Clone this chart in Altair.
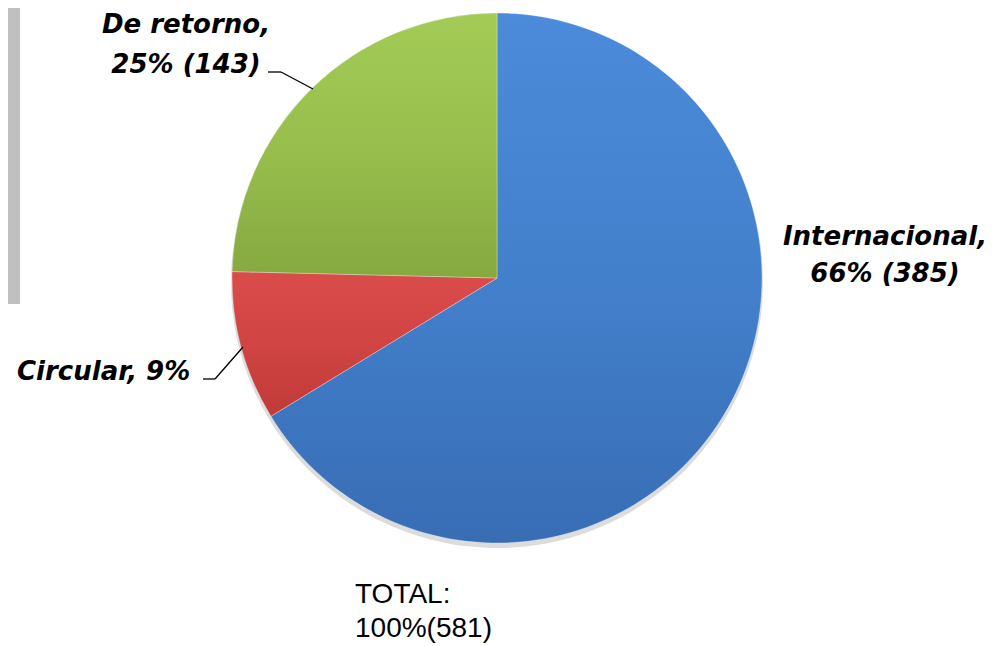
import math
import altair as alt
import pandas as pd

# ---- data ----
categories = ["Internacional", "Circular", "De retorno"]
counts = [385, 53, 143]
percents = [66, 9, 25]
show_count = [True, False, True]
total_lines = ["TOTAL:", "100%(581)"]

df = pd.DataFrame({
    "cat": categories,
    "n": counts,
    "pct": percents,
    "order": list(range(len(categories))),
})

W, H = 980, 638
OFF = 8
CX, CY, R = 497 - OFF, 278 - OFF, 265

theta_scale = alt.Scale(domain=[0, sum(counts)], range=[0, 2 * math.pi])

base = alt.Chart(df).transform_window(
    end="sum(n)", sort=[alt.SortField("order")], frame=[None, 0]
).transform_calculate(start="datum.end - datum.n")

enc = dict(
    theta=alt.Theta("start:Q", scale=theta_scale),
    theta2="end:Q",
)

# shadow
shadow = base.mark_arc(outerRadius=R + 1, fill="#8a8a8a", opacity=0.3).encode(
    x=alt.value(CX), y=alt.value(CY + 4), **enc
)

grad = {
    "Internacional": [(0, "#4b8bd9"), (0.5, "#4380cc"), (1, "#386db4")],
    "Circular": [(0, "#da4c4a"), (0.5, "#d04444"), (1, "#c03a38")],
    "De retorno": [(0, "#a3cb56"), (0.5, "#98bf4d"), (1, "#86a840")],
}


def slice_layer(cat):
    return base.transform_filter(alt.datum.cat == cat).mark_arc(
        outerRadius=R,
        fill=alt.Gradient(
            gradient="linear",
            stops=[alt.GradientStop(color=c, offset=o) for o, c in grad[cat]],
            x1=0, y1=0, x2=0, y2=1,
        ),
        stroke="#ffffff",
        strokeOpacity=0.3,
        strokeWidth=1,
    ).encode(x=alt.value(CX), y=alt.value(CY), **enc)


slices = [slice_layer(c) for c in categories]

# gray bar on the left
bar = alt.Chart(df).mark_rect(color="#c0c0c0").encode(
    x=alt.value(0), x2=alt.value(20 - OFF), y=alt.value(0), y2=alt.value(304 - OFF)
)

label_font = dict(font="DejaVu Sans", fontSize=26, fontWeight="bold", fontStyle="italic", color="#000000")

positions = {
    "Internacional": (885, 245, 282, "center"),
    "Circular": (17, 380, None, "left"),
    "De retorno": (186, 33, 73, "center"),
}

label_layers = []
for i, cat in enumerate(categories):
    x, y1, y2, align = positions[cat]
    if show_count[i]:
        line1 = f"{cat},"
        line2 = f"{percents[i]}% ({counts[i]})"
        label_layers.append(
            alt.Chart(df).transform_filter(alt.datum.cat == cat).mark_text(
                align=align, baseline="alphabetic", text=line1, **label_font
            ).encode(x=alt.value(x - OFF), y=alt.value(y1 - OFF))
        )
        label_layers.append(
            alt.Chart(df).transform_filter(alt.datum.cat == cat).mark_text(
                align=align, baseline="alphabetic", text=line2, **label_font
            ).encode(x=alt.value(x - OFF), y=alt.value(y2 - OFF))
        )
    else:
        line = f"{cat}, {percents[i]}%"
        label_layers.append(
            alt.Chart(df).transform_filter(alt.datum.cat == cat).mark_text(
                align=align, baseline="alphabetic", text=line, **label_font
            ).encode(x=alt.value(x - OFF), y=alt.value(y1 - OFF))
        )

# leader lines
segs = [
    (268, 72, 281, 72),
    (281, 72, 313, 89),
    (203, 379, 215, 379),
    (215, 379, 243, 347),
]
leaders = [
    alt.Chart(df).transform_filter(alt.datum.order == 0).mark_rule(color="#000000", strokeWidth=1.3).encode(
        x=alt.value(a - OFF), y=alt.value(b - OFF), x2=alt.value(c - OFF), y2=alt.value(d - OFF)
    )
    for a, b, c, d in segs
]

total_layers = [
    alt.Chart(df).transform_filter(alt.datum.order == 0).mark_text(
        align="left", baseline="alphabetic", text=t, font="Liberation Sans", fontSize=28, color="#000000"
    ).encode(x=alt.value(355 - OFF), y=alt.value(yy - OFF))
    for t, yy in zip(total_lines, [603, 637])
]

chart = alt.layer(bar, shadow, *slices, *leaders, *label_layers, *total_layers).properties(
    width=W, height=H, autosize=alt.AutoSizeParams(type="none"), padding=0
).configure_view(stroke=None)

chart.save("out.html", embed_options={"renderer": "svg", "actions": False})
